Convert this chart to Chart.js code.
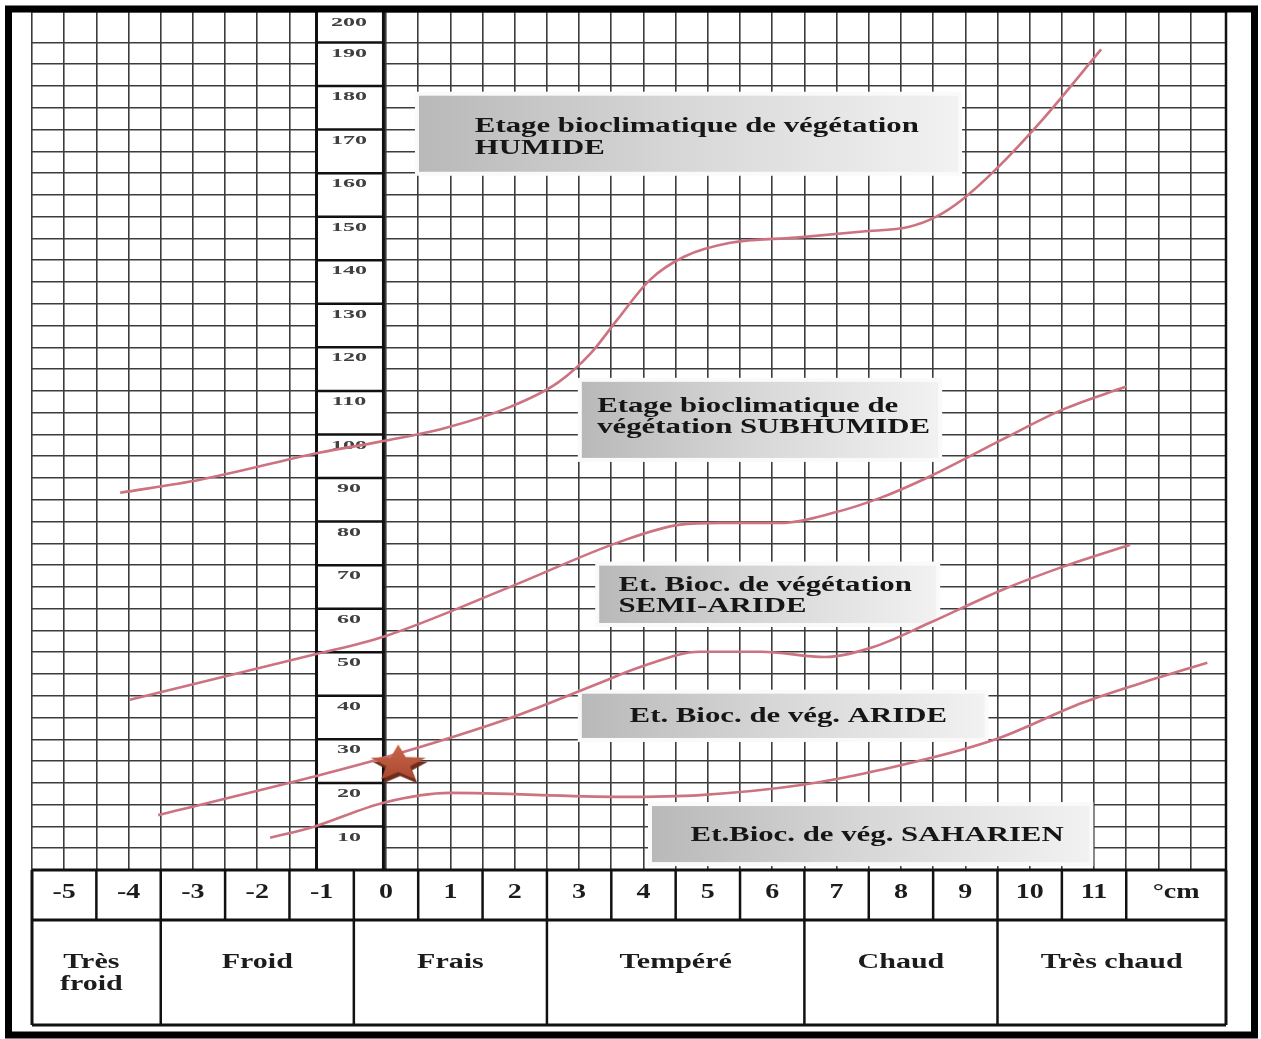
<!DOCTYPE html>
<html lang="fr">
<head>
<meta charset="utf-8">
<title>Climagramme d'Emberger</title>
<script src="https://cdn.jsdelivr.net/npm/chart.js@4.4.1/dist/chart.umd.min.js"></script>
<style>
  html, body { margin: 0; padding: 0; background: #ffffff; }
  #wrap { width: 1261px; height: 1039px; }
  canvas { display: block; }
</style>
</head>
<body>
<div id="wrap"><canvas id="chart" width="1261" height="1039"></canvas></div>
<script>
// Limites entre étages bioclimatiques : m (°C) en abscisse, Q2 en ordonnée
const limiteHumideX = [-4.13, -2.89, -1.04, -0.11, 0.92, 1.94, 2.67, 3.19, 3.59, 4.10, 4.63, 5.35, 6.37, 7.41, 8.13, 8.55, 8.95, 9.47, 10.20, 11.11];
const limiteHumideY = [86.6, 89.6, 95.8, 98.3, 101.5, 106.4, 111.9, 118.8, 126.3, 135.5, 140.8, 144.0, 145.2, 146.6, 147.7, 150.0, 153.9, 160.8, 172.3, 188.4];

const limiteSubhumideX = [-3.98, -1.13, -0.05, 1.93, 3.64, 4.57, 5.19, 6.14, 6.95, 7.69, 8.44, 9.57, 10.51, 11.50];
const limiteSubhumideY = [39.1, 49.4, 53.5, 65.0, 75.4, 79.3, 79.7, 79.7, 82.0, 85.5, 90.3, 98.8, 105.7, 111.0];

const limiteSemiArideX = [-3.54, -1.13, -0.05, 1.93, 3.33, 3.95, 4.88, 5.83, 6.82, 7.57, 8.44, 9.57, 10.51, 11.56];
const limiteSemiArideY = [12.6, 21.4, 25.7, 34.9, 43.0, 46.6, 50.1, 50.1, 48.9, 51.2, 56.7, 64.3, 69.6, 74.7];

const limiteArideX = [-1.80, -1.13, -0.05, 0.99, 3.64, 4.88, 6.45, 7.69, 9.45, 10.82, 11.75, 12.76];
const limiteArideY = [7.4, 9.9, 15.4, 17.7, 16.8, 17.2, 19.5, 23.0, 29.9, 38.4, 43.0, 47.6];

// Station étudiée
const stationX = [0.19];
const stationY = [24.4];

// Graduations
const xTickValues = [-5, -4, -3, -2, -1, 0, 1, 2, 3, 4, 5, 6, 7, 8, 9, 10, 11];
const xTickLabels = ['-5', '-4', '-3', '-2', '-1', '0', '1', '2', '3', '4', '5', '6', '7', '8', '9', '10', '11'];
const xUnitLabel = '°cm';
const yTickValues = [200, 190, 180, 170, 160, 150, 140, 130, 120, 110, 100, 90, 80, 70, 60, 50, 40, 30, 20, 10];

// Variantes thermiques (hiver)
const thermalNames = [['Très', 'froid'], ['Froid'], ['Frais'], ['Tempéré'], ['Chaud'], ['Très chaud']];
const thermalFrom = [-5.5, -3.5, -0.5, 2.5, 6.5, 9.5];
const thermalTo = [-3.5, -0.5, 2.5, 6.5, 9.5, 13.05];

// Étiquettes des étages
const zoneTexts = [
  ['Etage bioclimatique de végétation', 'HUMIDE'],
  ['Etage bioclimatique de', 'végétation SUBHUMIDE'],
  ['Et. Bioc. de végétation', 'SEMI-ARIDE'],
  ['Et. Bioc. de vég. ARIDE'],
  ['Et.Bioc. de vég. SAHARIEN']
];

// Placement des cartouches (unités des axes)
const zoneLayout = [
  { x0: 0.45, x1: 8.95, y0: 159.4, y1: 178.7, tx: 1.38, ty: [170.7, 165.6], align: 'left' },
  { x0: 2.98, x1: 8.64, y0: 93.7, y1: 113.0, tx: 3.28, ty: [106.4, 101.5], align: 'left' },
  { x0: 3.25, x1: 8.61, y0: 55.8, y1: 70.8, tx: 3.61, ty: [65.2, 60.4], align: 'left' },
  { x0: 2.98, x1: 9.36, y0: 29.4, y1: 41.4, tx: 6.25, ty: [35.1], align: 'center' },
  { x0: 4.07, x1: 10.99, y0: 0.9, y1: 15.6, tx: 7.63, ty: [7.8], align: 'center' }
];

const SERIF = '"Liberation Serif", "Times New Roman", serif';
const INK = '#111111';
const CURVE = '#cd7280';

function toPoints(xs, ys) {
  return xs.map((v, i) => ({ x: v, y: ys[i] }));
}

// Texte élargi horizontalement
function wideText(c, text, x, y, align, sx) {
  c.save();
  c.translate(x, y);
  c.scale(sx, 1);
  c.textAlign = align;
  c.textBaseline = 'middle';
  c.fillText(text, 0, 0);
  c.restore();
}

// Étoile aplatie avec ombre portée
function makeStar() {
  const cv = document.createElement('canvas');
  cv.width = 72; cv.height = 52;
  const c = cv.getContext('2d');
  const cx = 36, cy = 26, R = 29, r = 12.5, sy = 0.66;
  function path(dx, dy) {
    c.beginPath();
    for (let i = 0; i < 10; i++) {
      const ang = -Math.PI / 2 + i * Math.PI / 5;
      const rad = i % 2 === 0 ? R : r;
      const px = cx + dx + Math.cos(ang) * rad;
      const py = cy + dy + Math.sin(ang) * rad * sy;
      if (i === 0) c.moveTo(px, py); else c.lineTo(px, py);
    }
    c.closePath();
  }
  path(2, 4);
  c.fillStyle = '#6e2b1b';
  c.fill();
  path(0, 0);
  const g = c.createLinearGradient(0, cy - 20, 0, cy + 18);
  g.addColorStop(0, '#c9664a');
  g.addColorStop(1, '#a9482f');
  c.fillStyle = g;
  c.fill();
  return cv;
}

const climagram = {
  id: 'climagram',
  beforeDatasetsDraw(chart) {
    const c = chart.ctx;
    const a = chart.chartArea;
    const x = chart.scales.x, y = chart.scales.y;

    // Cartouches grisés
    zoneLayout.forEach((b, i) => {
      const l = x.getPixelForValue(b.x0), r = x.getPixelForValue(b.x1);
      const t = y.getPixelForValue(b.y1), btm = y.getPixelForValue(b.y0);
      c.save();
      c.fillStyle = '#fafafa';
      c.fillRect(l, t, r - l, btm - t);
      const g = c.createLinearGradient(l, 0, r, 0);
      g.addColorStop(0, '#b8b8b8');
      g.addColorStop(0.5, '#d8d8d8');
      g.addColorStop(1, '#f2f2f2');
      c.fillStyle = g;
      c.fillRect(l + 4, t + 4, r - l - 8, btm - t - 8);
      c.fillStyle = '#161616';
      c.font = 'bold 20px ' + SERIF;
      const tx = x.getPixelForValue(b.tx);
      zoneTexts[i].forEach((line, k) => {
        wideText(c, line, tx, y.getPixelForValue(b.ty[k]), b.align, 1.54);
      });
      c.restore();
    });

    // Colonne des graduations de Q2
    const cl = x.getPixelForValue(-1.08), cr = x.getPixelForValue(-0.04);
    c.save();
    c.fillStyle = '#ffffff';
    c.fillRect(cl, a.top, cr - cl, a.bottom - a.top);
    c.strokeStyle = INK;
    c.lineWidth = 2.5;
    yTickValues.forEach(v => {
      if (v < y.max) {
        const py = y.getPixelForValue(v);
        c.beginPath(); c.moveTo(cl, py); c.lineTo(cr, py); c.stroke();
      }
    });
    c.lineWidth = 3;
    [cl, cr].forEach(px => {
      c.beginPath(); c.moveTo(px, a.top); c.lineTo(px, a.bottom); c.stroke();
    });
    c.fillStyle = '#404040';
    c.font = 'bold 12px ' + SERIF;
    yTickValues.forEach(v => {
      const py = Math.max(y.getPixelForValue(v), a.top) + 11;
      wideText(c, String(v), (cl + cr) / 2 - 1, py, 'center', 2.0);
    });
    c.restore();
  },
  afterDraw(chart) {
    const c = chart.ctx;
    const a = chart.chartArea;
    const x = chart.scales.x;
    const top = a.bottom, mid = a.bottom + 50, bot = a.bottom + 155;
    c.save();
    c.strokeStyle = INK;

    // Bord droit de la grille
    c.lineWidth = 2.5;
    c.beginPath(); c.moveTo(a.right, a.top); c.lineTo(a.right, a.bottom); c.stroke();

    // Tableau des températures
    c.lineWidth = 3;
    [top, mid, bot].forEach(py => {
      c.beginPath(); c.moveTo(a.left, py); c.lineTo(a.right, py); c.stroke();
    });
    [a.left, a.right].forEach(px => {
      c.beginPath(); c.moveTo(px, top); c.lineTo(px, bot); c.stroke();
    });
    c.lineWidth = 2.5;
    xTickValues.forEach(v => {
      const px = x.getPixelForValue(v + 0.5);
      c.beginPath(); c.moveTo(px, top); c.lineTo(px, mid); c.stroke();
    });
    thermalFrom.forEach((v, i) => {
      if (i === 0) return;
      const px = x.getPixelForValue(v);
      c.beginPath(); c.moveTo(px, mid); c.lineTo(px, bot); c.stroke();
    });

    c.fillStyle = '#1c1c1c';
    c.font = 'bold 20px ' + SERIF;
    xTickValues.forEach((v, i) => {
      wideText(c, xTickLabels[i], x.getPixelForValue(v), top + 23, 'center', 1.4);
    });
    const unitX = (x.getPixelForValue(11.5) + a.right) / 2;
    wideText(c, xUnitLabel, unitX, top + 23, 'center', 1.4);

    thermalNames.forEach((lines, i) => {
      const cx = (x.getPixelForValue(thermalFrom[i]) + x.getPixelForValue(thermalTo[i])) / 2;
      lines.forEach((line, k) => {
        wideText(c, line, cx - (lines.length > 1 ? 5 : 0), mid + 43 + k * 22, 'center', 1.5);
      });
    });

    // Cadre extérieur
    c.lineWidth = 7;
    c.strokeStyle = '#000000';
    c.strokeRect(8.5, 9, 1246, 1026);
    c.restore();
  }
};

const lineStyle = {
  showLine: true,
  borderColor: CURVE,
  borderWidth: 2.6,
  pointRadius: 0,
  pointHoverRadius: 0,
  fill: false,
  cubicInterpolationMode: 'monotone'
};

const gridStyle = {
  color: '#3c3c3c',
  lineWidth: 1.6,
  drawTicks: false
};

new Chart(document.getElementById('chart'), {
  type: 'scatter',
  data: {
    datasets: [
      {
        label: 'Station',
        data: toPoints(stationX, stationY),
        pointStyle: makeStar(),
        pointRadius: 20,
        pointHoverRadius: 20,
        showLine: false
      },
      Object.assign({ label: 'Humide / Subhumide', data: toPoints(limiteHumideX, limiteHumideY) }, lineStyle),
      Object.assign({ label: 'Subhumide / Semi-aride', data: toPoints(limiteSubhumideX, limiteSubhumideY) }, lineStyle),
      Object.assign({ label: 'Semi-aride / Aride', data: toPoints(limiteSemiArideX, limiteSemiArideY) }, lineStyle),
      Object.assign({ label: 'Aride / Saharien', data: toPoints(limiteArideX, limiteArideY) }, lineStyle)
    ]
  },
  options: {
    responsive: false,
    animation: false,
    devicePixelRatio: 1,
    events: [],
    layout: { autoPadding: false, padding: { left: 32, top: 12, right: 35, bottom: 169 } },
    plugins: {
      legend: { display: false },
      tooltip: { enabled: false }
    },
    scales: {
      x: {
        type: 'linear',
        min: -5.5,
        max: 13.05,
        ticks: { display: false, stepSize: 0.5, maxTicksLimit: 1000 },
        grid: gridStyle,
        border: { display: false }
      },
      y: {
        type: 'linear',
        min: 0,
        max: 197,
        ticks: { display: false, stepSize: 5, maxTicksLimit: 1000 },
        grid: gridStyle,
        border: { display: false }
      }
    }
  },
  plugins: [climagram]
});
</script>
</body>
</html>
